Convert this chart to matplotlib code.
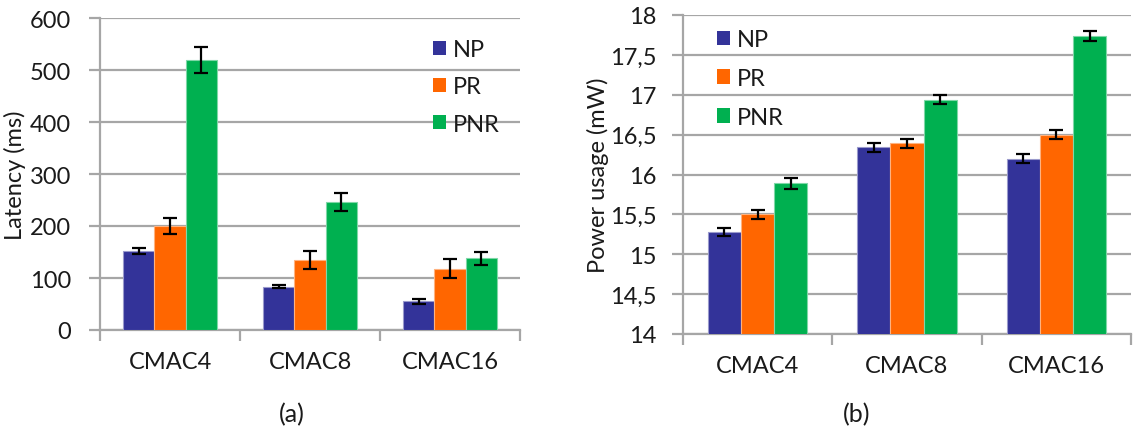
import numpy as np
import matplotlib.pyplot as plt
from matplotlib.patches import Patch
from matplotlib.ticker import FuncFormatter

plt.rcParams['font.family'] = ['Lato', 'DejaVu Sans']

# ---------------- data ---------------- #
categories = ['CMAC4', 'CMAC8', 'CMAC16']
series = ['NP', 'PR', 'PNR']
colors = ['#333399', '#FF6600', '#00B050']
edges = ['#9a9acc', '#ffb27f', '#7fd7a7']

latency = {'NP': [152, 83, 55],
           'PR': [200, 134, 118],
           'PNR': [520, 246, 138]}
latency_err = {'NP': [5, 3, 4.5],
               'PR': [15, 17, 18],
               'PNR': [25, 17, 12.5]}

power = {'NP': [15.28, 16.34, 16.20],
         'PR': [15.50, 16.39, 16.50],
         'PNR': [15.89, 16.94, 17.74]}
power_err = {'NP': [0.05, 0.06, 0.06],
             'PR': [0.06, 0.06, 0.06],
             'PNR': [0.07, 0.06, 0.06]}

W, H = 1135, 435
GRID = '#a6a6a6'
TXT = '#1a1a1a'
FS = 17

fig = plt.figure(figsize=(W / 100, H / 100), dpi=100)


def px_axes(x0, y0, x1, y1):
    return fig.add_axes([x0 / W, 1 - y1 / H, (x1 - x0) / W, (y1 - y0) / H])


def draw(ax, vals, errs, ylim, yticks, ylabel, ylab_x, ypad, legend_xy, spacing):
    n = len(series)
    bw = 1 / (n + 1.5)
    x = np.arange(len(categories))
    for i, s in enumerate(series):
        off = (i - (n - 1) / 2) * bw
        ax.bar(x + off, vals[s], bw, color=colors[i], edgecolor=edges[i],
               linewidth=0.8, zorder=3, label=s)
        ax.errorbar(x + off, vals[s], yerr=errs[s], fmt='none', ecolor='black',
                    elinewidth=1.6, capsize=5, capthick=1.6, zorder=4)
    ax.set_xlim(-0.5, len(categories) - 0.5)
    ax.set_ylim(*ylim)
    ax.set_yticks(yticks)
    ax.yaxis.grid(True, color=GRID, linewidth=1.6, zorder=0)
    ax.set_axisbelow(True)
    for sp in ['top', 'right']:
        ax.spines[sp].set_visible(False)
    for sp in ['left', 'bottom']:
        ax.spines[sp].set_color(GRID)
        ax.spines[sp].set_linewidth(1.6)
    ax.set_xticks(np.arange(-0.5, len(categories), 1.0))
    ax.set_xticklabels([])
    ax.set_xticks(x, minor=True)
    ax.set_xticklabels(categories, minor=True)
    ax.tick_params(axis='x', which='major', length=8, width=1.6, color=GRID)
    ax.tick_params(axis='x', which='minor', length=0, pad=15,
                   labelsize=FS, labelcolor=TXT)
    ax.tick_params(axis='y', length=8, width=1.6, color=GRID,
                   labelsize=FS, labelcolor=TXT, pad=ypad)
    ax.set_ylabel(ylabel, fontsize=FS, color=TXT)
    ax.yaxis.set_label_coords(ylab_x, 0.5)
    handles = [Patch(facecolor=c, edgecolor='none') for c in colors]
    lx, ly = legend_xy
    ax.legend(handles, series, loc='upper left', frameon=False,
              bbox_to_anchor=(lx / W, 1 - ly / H), bbox_transform=fig.transFigure,
              fontsize=FS, handlelength=0.55, handleheight=0.55,
              handletextpad=0.3, labelspacing=spacing, borderpad=0,
              borderaxespad=0, labelcolor=TXT)


ax1 = px_axes(100, 19, 520, 331)
draw(ax1, latency, latency_err, (0, 600), np.arange(0, 601, 100),
     'Latency (ms)', -0.175, 13, (433, 40), 0.69)

ax2 = px_axes(683, 16, 1131, 335)
draw(ax2, power, power_err, (14, 18), np.arange(14, 18.01, 0.5),
     'Power usage (mW)', -0.165, 11, (717, 30), 0.76)
ax2.yaxis.set_major_formatter(
    FuncFormatter(lambda v, p: ('%g' % v).replace('.', ',')))

fig.text(292 / W, 1 - 415 / H, '(a)', ha='center', va='center',
         fontsize=FS + 1, color=TXT)
fig.text(857 / W, 1 - 415 / H, '(b)', ha='center', va='center',
         fontsize=FS + 1, color=TXT)

fig.savefig('out.png', dpi=100)
